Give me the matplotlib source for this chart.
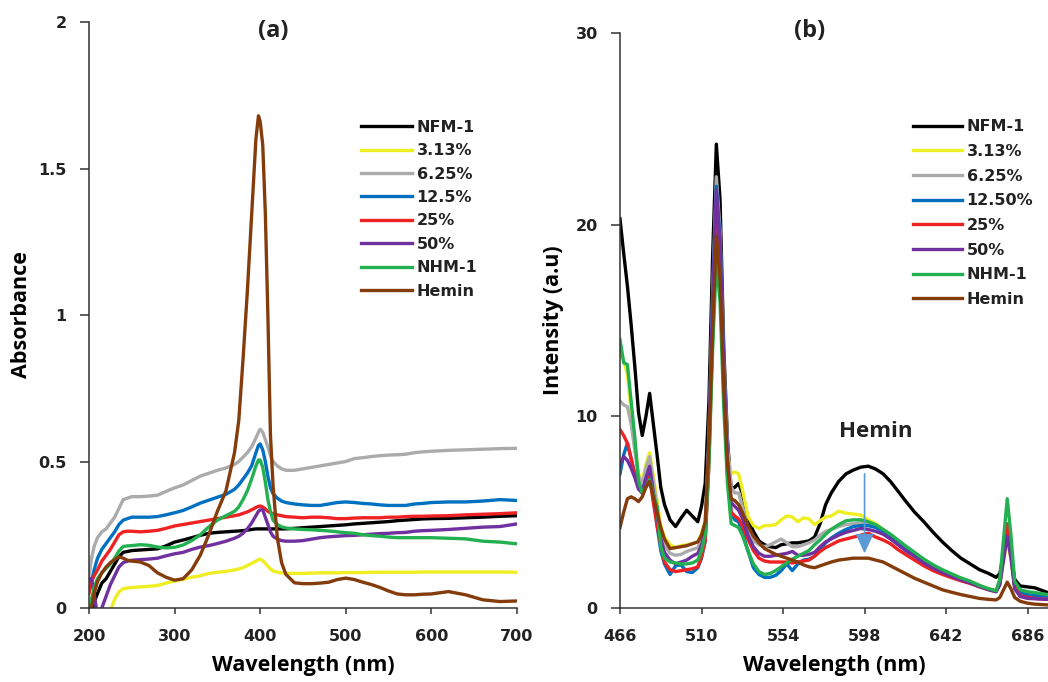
import matplotlib
matplotlib.use("Agg")
from matplotlib import pyplot as pplt

# (a) UV-vis absorbance
wl_a = [200, 203, 206, 210, 215, 220, 225, 230, 235, 240,
        245, 250, 260, 270, 280, 290, 300, 310, 320, 330,
        340, 350, 360, 370, 375, 380, 385, 390, 395, 398,
        400, 403, 406, 409, 412, 415, 420, 425, 430, 440,
        450, 460, 470, 480, 490, 500, 510, 520, 530, 540,
        550, 560, 570, 580, 590, 600, 620, 640, 660, 680,
        700]

nfm1_a = [-0.08, -0.02, 0.02, 0.05, 0.085, 0.10, 0.125, 0.15, 0.175, 0.19,
          0.193, 0.196, 0.198, 0.20, 0.202, 0.212, 0.225, 0.232, 0.24, 0.248,
          0.255, 0.258, 0.26, 0.262, 0.263, 0.264, 0.266, 0.268, 0.27, 0.27,
          0.27, 0.27, 0.27, 0.27, 0.27, 0.27, 0.27, 0.27, 0.27, 0.272,
          0.274, 0.276, 0.278, 0.28, 0.282, 0.284, 0.287, 0.289, 0.291, 0.293,
          0.295, 0.298, 0.30, 0.302, 0.304, 0.305, 0.306, 0.308, 0.31, 0.313,
          0.315]
p313_a = [-0.25, -0.22, -0.19, -0.15, -0.10, -0.06, -0.01, 0.03, 0.055, 0.066,
          0.068, 0.07, 0.072, 0.074, 0.077, 0.085, 0.092, 0.098, 0.105, 0.11,
          0.118, 0.122, 0.125, 0.13, 0.133, 0.138, 0.145, 0.152, 0.16, 0.165,
          0.167, 0.162, 0.152, 0.142, 0.133, 0.127, 0.122, 0.12, 0.119, 0.118,
          0.118, 0.119, 0.12, 0.12, 0.12, 0.121, 0.121, 0.121, 0.122, 0.122,
          0.122, 0.122, 0.122, 0.122, 0.123, 0.123, 0.123, 0.123, 0.123, 0.123,
          0.122]
p625_a = [0.11, 0.17, 0.21, 0.24, 0.26, 0.27, 0.29, 0.31, 0.34, 0.37,
          0.375, 0.38, 0.38, 0.382, 0.385, 0.398, 0.41, 0.42, 0.435, 0.45,
          0.46, 0.47, 0.478, 0.49, 0.50, 0.515, 0.53, 0.55, 0.58, 0.60,
          0.61, 0.60, 0.575, 0.55, 0.52, 0.50, 0.485, 0.475, 0.47, 0.47,
          0.475, 0.48, 0.485, 0.49, 0.495, 0.50, 0.51, 0.513, 0.517, 0.52,
          0.522, 0.523, 0.525, 0.53, 0.533, 0.535, 0.538, 0.54, 0.542, 0.544,
          0.545]
p125_a = [0.09, 0.09, 0.13, 0.17, 0.20, 0.22, 0.24, 0.26, 0.285, 0.30,
          0.305, 0.31, 0.31, 0.31, 0.312, 0.318, 0.325, 0.333, 0.345, 0.358,
          0.368, 0.378, 0.388, 0.405, 0.42, 0.44, 0.46, 0.485, 0.53, 0.555,
          0.56, 0.54, 0.50, 0.45, 0.41, 0.39, 0.375, 0.365, 0.36, 0.355,
          0.352, 0.35, 0.35, 0.355, 0.36, 0.362, 0.36, 0.357, 0.355, 0.352,
          0.35, 0.35, 0.35, 0.355, 0.357, 0.36, 0.362, 0.362, 0.365, 0.37,
          0.367]
p25_a = [0.05, 0.09, 0.11, 0.13, 0.16, 0.18, 0.20, 0.225, 0.25, 0.26,
         0.262, 0.262, 0.26, 0.262, 0.265, 0.272, 0.28, 0.285, 0.29, 0.295,
         0.30, 0.305, 0.31, 0.315, 0.318, 0.323, 0.328, 0.335, 0.343, 0.347,
         0.348, 0.345, 0.338, 0.33, 0.325, 0.322, 0.318, 0.315, 0.312, 0.31,
         0.308, 0.31, 0.31, 0.308, 0.305, 0.305, 0.307, 0.308, 0.308, 0.308,
         0.31, 0.31, 0.312, 0.313, 0.313, 0.314, 0.315, 0.318, 0.32, 0.322,
         0.325]
p50_a = [0.10, 0.10, 0.05, -0.03, 0.00, 0.04, 0.08, 0.11, 0.14, 0.155,
         0.16, 0.163, 0.165, 0.167, 0.17, 0.178, 0.185, 0.19, 0.20, 0.208,
         0.213, 0.22, 0.228, 0.238, 0.245, 0.255, 0.27, 0.29, 0.315, 0.33,
         0.335, 0.335, 0.31, 0.285, 0.26, 0.245, 0.235, 0.23, 0.228, 0.228,
         0.23, 0.235, 0.24, 0.243, 0.245, 0.247, 0.248, 0.25, 0.252, 0.254,
         0.255, 0.257, 0.258, 0.262, 0.264, 0.265, 0.268, 0.272, 0.276, 0.278,
         0.287]
nhm1_a = [-0.05, 0.03, 0.07, 0.10, 0.12, 0.135, 0.15, 0.17, 0.195, 0.21,
          0.212, 0.213, 0.216, 0.214, 0.208, 0.205, 0.207, 0.215, 0.23, 0.25,
          0.277, 0.30, 0.315, 0.33, 0.345, 0.37, 0.40, 0.44, 0.485, 0.505,
          0.505, 0.48, 0.43, 0.37, 0.33, 0.30, 0.285, 0.277, 0.273, 0.27,
          0.268, 0.267, 0.265, 0.263, 0.26, 0.257, 0.255, 0.25, 0.247, 0.245,
          0.242, 0.24, 0.24, 0.24, 0.24, 0.24, 0.238, 0.236, 0.228, 0.225,
          0.219]
hemin_a = [-0.05, 0.00, 0.05, 0.09, 0.12, 0.14, 0.155, 0.165, 0.175, 0.17,
           0.163, 0.16, 0.157, 0.145, 0.12, 0.105, 0.095, 0.10, 0.13, 0.18,
           0.25, 0.33, 0.40, 0.53, 0.64, 0.85, 1.08, 1.34, 1.60, 1.68,
           1.66, 1.58, 1.35, 1.00, 0.59, 0.42, 0.24, 0.155, 0.115, 0.086,
           0.083, 0.083, 0.085, 0.088, 0.097, 0.102, 0.097, 0.088, 0.08, 0.07,
           0.058, 0.048, 0.045, 0.045, 0.047, 0.048, 0.056, 0.045, 0.028, 0.022,
           0.024]

# (b) fluorescence intensity
wl_b = [466, 468, 470, 472, 474, 476, 478, 480, 482, 484,
        486, 488, 490, 493, 496, 499, 502, 505, 508, 510,
        512, 514, 516, 518, 520, 522, 524, 526,
        528, 530, 532, 535, 538, 541, 544, 547, 550, 553,
        556, 559, 562, 565, 568, 571, 574, 577, 580, 584,
        588, 592, 596, 600, 604, 608, 612, 616, 620, 625,
        630, 635, 640, 645, 650, 655, 660, 665, 669, 671,
        673, 675, 677, 679, 682, 686, 690, 697]

nfm1_b = [20.3, 18.5, 16.8, 14.8, 12.6, 10.2, 9.0, 10.0, 11.2, 9.6,
          8.0, 6.3, 5.4, 4.6, 4.25, 4.7, 5.1, 4.8, 4.5, 5.3,
          6.5, 10.8, 18.4, 24.2, 21.3, 13.6, 8.8, 6.2,
          6.3, 6.5, 6.0, 4.7, 4.0, 3.5, 3.3, 3.2, 3.15, 3.3,
          3.35, 3.4, 3.4, 3.45, 3.5, 3.7, 4.4, 5.4, 6.0, 6.6,
          7.0, 7.2, 7.35, 7.4, 7.25, 7.0, 6.6, 6.1, 5.6, 5.0,
          4.5, 3.95, 3.45, 3.0, 2.6, 2.3, 2.0, 1.8, 1.6, 1.8,
          2.8, 3.5, 2.8, 1.5, 1.15, 1.1, 1.05, 0.8]
p313_b = [13.3, 12.9, 12.2, 10.3, 8.5, 7.0, 6.6, 7.5, 8.1, 6.9,
          5.6, 4.3, 3.7, 3.3, 3.15, 3.25, 3.3, 3.35, 3.45, 3.9,
          4.5, 8.0, 14.0, 18.5, 16.5, 11.5, 8.0, 7.0,
          7.1, 7.0, 6.2, 4.8, 4.3, 4.15, 4.3, 4.3, 4.35, 4.6,
          4.8, 4.75, 4.5, 4.7, 4.65, 4.35, 4.55, 4.75, 4.8, 5.05,
          4.95, 4.9, 4.85, 4.6, 4.4, 4.1, 3.8, 3.5, 3.2, 2.85,
          2.5, 2.2, 1.95, 1.75, 1.55, 1.38, 1.17, 1.0, 0.9, 1.3,
          2.5, 3.5, 2.6, 1.1, 0.75, 0.7, 0.65, 0.6]
p625_b = [10.8, 10.6, 10.5, 9.6, 8.2, 6.9, 6.4, 7.3, 7.9, 6.6,
          5.3, 4.0, 3.3, 2.85, 2.75, 2.8, 2.95, 3.05, 3.15, 3.6,
          4.3, 9.0, 16.5, 22.5, 19.7, 13.0, 8.5, 6.3,
          6.0, 6.0, 5.3, 4.2, 3.5, 3.3, 3.2, 3.3, 3.45, 3.6,
          3.4, 3.2, 3.2, 3.3, 3.4, 3.55, 3.8, 4.0, 4.1, 4.25,
          4.35, 4.4, 4.45, 4.45, 4.3, 4.05, 3.75, 3.45, 3.15, 2.8,
          2.45, 2.15, 1.9, 1.7, 1.5, 1.35, 1.15, 1.0, 0.88, 1.4,
          2.8, 3.9, 2.9, 1.2, 0.75, 0.7, 0.65, 0.6]
p125_b = [7.0, 8.0, 8.6, 7.8, 7.0, 6.3, 6.1, 6.7, 7.1, 5.9,
          4.3, 3.0, 2.3, 1.75, 2.2, 2.25, 1.9, 1.85, 2.1, 2.6,
          3.5, 8.2, 16.0, 22.0, 19.2, 12.5, 7.5, 4.9,
          4.6, 4.5, 4.0, 3.0, 2.1, 1.75, 1.6, 1.6, 1.7, 1.95,
          2.3, 1.95, 2.3, 2.5, 2.55, 2.7, 3.05, 3.4, 3.65, 3.9,
          4.1, 4.25, 4.3, 4.3, 4.2, 4.0, 3.7, 3.4, 3.1, 2.8,
          2.45, 2.15, 1.92, 1.72, 1.52, 1.36, 1.15, 0.98, 0.88, 1.3,
          2.8, 4.0, 2.9, 1.2, 0.8, 0.7, 0.65, 0.6]
p25_b = [9.3, 9.0, 8.6, 7.8, 6.9, 6.3, 6.0, 6.5, 6.85, 5.5,
         4.3, 3.3, 2.4, 2.0, 1.9, 1.95, 2.0, 2.05, 2.15, 2.7,
         3.5, 7.5, 14.5, 19.9, 17.5, 11.5, 7.0, 5.0,
         4.8, 4.65, 4.3, 3.6, 3.0, 2.6, 2.45, 2.4, 2.4, 2.4,
         2.4, 2.35, 2.4, 2.45, 2.5, 2.7, 2.95, 3.15, 3.3, 3.5,
         3.6, 3.7, 3.8, 3.9, 3.7, 3.55, 3.35, 3.05, 2.8, 2.5,
         2.2, 1.95, 1.75, 1.58, 1.42, 1.28, 1.1, 0.95, 0.85, 1.3,
         2.9, 4.4, 3.0, 1.1, 0.65, 0.55, 0.5, 0.45]
p50_b = [7.5, 7.9, 7.7, 7.3, 6.8, 6.2, 6.0, 6.8, 7.4, 6.0,
         4.8, 3.6, 2.9, 2.5, 2.3, 2.4, 2.5, 2.7, 2.85, 3.3,
         4.0, 8.5, 16.0, 21.8, 19.0, 12.5, 7.8, 5.5,
         5.3, 5.1, 4.7, 3.8, 3.2, 2.85, 2.7, 2.7, 2.75, 2.8,
         2.85, 2.95, 2.75, 2.75, 2.8, 2.9, 3.2, 3.45, 3.6, 3.8,
         3.95, 4.05, 4.15, 4.1, 4.0, 3.85, 3.6, 3.3, 3.0, 2.7,
         2.35, 2.08, 1.85, 1.65, 1.47, 1.3, 1.12, 0.95, 0.85, 1.2,
         2.5, 3.75, 2.6, 1.0, 0.6, 0.5, 0.48, 0.45]
nhm1_b = [14.0, 12.8, 12.7, 10.8, 8.9, 6.6, 6.0, 6.3, 6.7, 5.9,
          5.3, 3.2, 2.6, 2.4, 2.35, 2.3, 2.3, 2.35, 2.5, 3.0,
          3.8, 7.5, 13.5, 18.1, 16.0, 10.5, 6.5, 4.4,
          4.3, 4.2, 3.8, 3.0, 2.3, 1.9, 1.75, 1.8, 1.95, 2.15,
          2.35, 2.55, 2.7, 2.85, 3.0, 3.3, 3.55, 3.85, 4.1, 4.35,
          4.55, 4.6, 4.6, 4.5, 4.35, 4.1, 3.85, 3.55, 3.25, 2.9,
          2.55, 2.25, 2.0, 1.78, 1.57, 1.4, 1.18, 1.0, 0.9, 1.5,
          3.6, 5.7, 3.8, 1.4, 0.95, 0.85, 0.8, 0.7]
hemin_b = [4.2, 5.0, 5.7, 5.8, 5.7, 5.55, 5.8, 6.3, 6.6, 5.8,
           5.0, 4.2, 3.6, 3.1, 3.15, 3.2, 3.25, 3.35, 3.45, 3.8,
           4.5, 8.5, 14.5, 19.4, 17.2, 11.5, 7.5, 5.7,
           5.6, 5.4, 5.0, 4.3, 3.75, 3.4, 3.1, 2.95, 2.8, 2.7,
           2.6, 2.5, 2.4, 2.25, 2.15, 2.1, 2.2, 2.3, 2.4, 2.5,
           2.55, 2.6, 2.6, 2.6, 2.5, 2.4, 2.2, 2.0, 1.8, 1.55,
           1.35, 1.15, 0.95, 0.82, 0.7, 0.6, 0.5, 0.45, 0.42, 0.55,
           0.95, 1.35, 1.0, 0.55, 0.35, 0.25, 0.2, 0.16]

names_a = ["NFM-1", "3.13%", "6.25%", "12.5%", "25%", "50%", "NHM-1", "Hemin"]
names_b = ["NFM-1", "3.13%", "6.25%", "12.50%", "25%", "50%", "NHM-1", "Hemin"]
colours = ["#000000", "#EEEE22", "#ABABAB", "#0070C0",
           "#EE2222", "#7030A0", "#22B050", "#843C0C"]
series_a = [nfm1_a, p313_a, p625_a, p125_a, p25_a, p50_a, nhm1_a, hemin_a]
series_b = [nfm1_b, p313_b, p625_b, p125_b, p25_b, p50_b, nhm1_b, hemin_b]

xticks_a = [200, 300, 400, 500, 600, 700]
yticks_a = [0, 0.5, 1, 1.5, 2]
xticks_b = [466, 510, 554, 598, 642, 686]
yticks_b = [0, 10, 20, 30]

txt = "#222222"
pplt.rcParams['font.family'] = ['Open Sans', 'DejaVu Sans']
pplt.rcParams['font.weight'] = 'bold'
pplt.rcParams['text.color'] = txt
wide = ['DejaVu Sans']   # tick labels and legends are a wide Verdana-like face

fig = pplt.figure(figsize=(10.48, 6.82), dpi=100)
ax_a = fig.add_axes([0.0849, 0.1085, 0.4084, 0.8592])
ax_b = fig.add_axes([0.5916, 0.1085, 0.4084, 0.8431])


def style_axes(ax, xt, yt, ylbl):
    for s in ("top", "right"):
        ax.spines[s].set_visible(False)
    for s in ("left", "bottom"):
        ax.spines[s].set_color("#333333")
        ax.spines[s].set_linewidth(1.1)
    ax.set_xticks(xt)
    ax.set_yticks(yt)
    ax.set_yticklabels([("%g" % v) for v in yt])
    ax.tick_params(axis='x', direction='out', length=4, width=1.1,
                   pad=11, labelsize=11.5, colors="#333333", labelcolor=txt)
    ax.tick_params(axis='y', direction='out', length=6.5, width=1.1,
                   pad=9.5, labelsize=11.5, colors="#333333", labelcolor=txt)
    for lab in ax.get_xticklabels() + ax.get_yticklabels():
        lab.set_fontweight('bold')
        lab.set_family(wide)
    ax.set_xlabel("Wavelength (nm)", fontsize=15.5, fontweight='bold', va='baseline')
    ax.set_ylabel(ylbl, fontsize=15.5, fontweight='bold', va='center')


leg_font = {'family': wide, 'weight': 'bold', 'size': 11.5}

for y, c, n in zip(series_a, colours, names_a):
    ax_a.plot(wl_a, y, color=c, lw=2.4, label=n, solid_joinstyle='round')
ax_a.set_xlim(200, 700)
ax_a.set_ylim(0, 2)
style_axes(ax_a, xticks_a, yticks_a, "Absorbance")
ax_a.xaxis.set_label_coords(0.5, -0.1075)
ax_a.yaxis.set_label_coords(-0.1565, 0.5)
ax_a.text(0.43, 0.984, "(a)", transform=ax_a.transAxes, fontsize=17,
          fontweight='bold', ha='center', va='center')
ax_a.legend(loc='upper left', bbox_to_anchor=(0.635, 0.833), frameon=False,
            prop=leg_font, handlelength=3.2, handletextpad=0.3,
            labelspacing=0.525, borderpad=0, borderaxespad=0)

for y, c, n in zip(series_b, colours, names_b):
    ax_b.plot(wl_b, y, color=c, lw=2.4, label=n, solid_joinstyle='round')
ax_b.set_xlim(466, 697)
ax_b.set_ylim(0, 30)
style_axes(ax_b, xticks_b, yticks_b, "Intensity (a.u)")
ax_b.xaxis.set_label_coords(0.5, -0.1096)
ax_b.yaxis.set_label_coords(-0.1565, 0.5)
ax_b.text(0.444, 1.003, "(b)", transform=ax_b.transAxes, fontsize=17,
          fontweight='bold', ha='center', va='center')
ax_b.legend(loc='upper left', bbox_to_anchor=(0.685, 0.850), frameon=False,
            prop=leg_font, handlelength=3.05, handletextpad=0.3,
            labelspacing=0.605, borderpad=0, borderaxespad=0)

ax_b.text(604, 9.2, "Hemin", fontsize=16, fontweight='bold',
          ha='center', va='center')
ax_b.annotate("", xy=(598, 2.85), xytext=(598, 7.0),
              arrowprops=dict(arrowstyle='-|>,head_length=0.6,head_width=0.28',
                              color="#5B9BD5", lw=1.2, mutation_scale=20,
                              shrinkA=0, shrinkB=0))

fig.savefig("out.png", dpi=100)
